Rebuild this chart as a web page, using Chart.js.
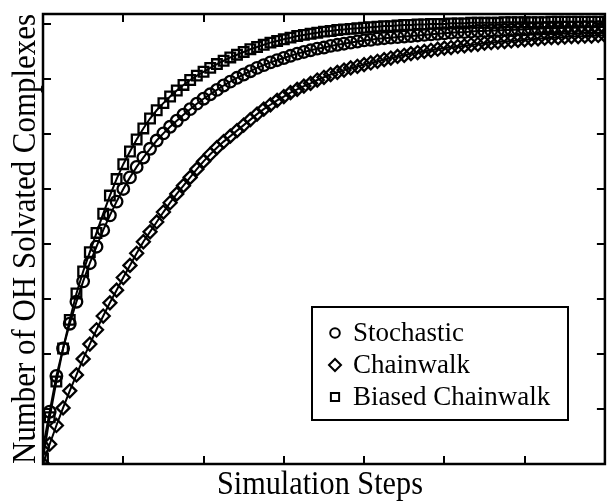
<!DOCTYPE html>
<html>
<head>
<meta charset="utf-8">
<script src="https://cdn.jsdelivr.net/npm/chart.js@4.4.1/dist/chart.umd.min.js"></script>
<style>
  html, body { margin: 0; padding: 0; background: #fff; }
</style>
</head>
<body>
<canvas id="myChart" width="614" height="501"></canvas>
<script>
const steps = [
  0, 1, 2, 3, 4, 5, 6, 7, 8, 9, 10, 11, 12, 13, 14, 15, 16, 17, 18, 19, 20,
  21, 22, 23, 24, 25, 26, 27, 28, 29, 30, 31, 32, 33, 34, 35, 36, 37, 38, 39, 40,
  41, 42, 43, 44, 45, 46, 47, 48, 49, 50, 51, 52, 53, 54, 55, 56, 57, 58, 59, 60,
  61, 62, 63, 64, 65, 66, 67, 68, 69, 70, 71, 72, 73, 74, 75, 76, 77, 78, 79, 80,
  81, 82, 83, 84,
];

const stochastic = [
  0.30, 0.95, 1.60, 2.10, 2.55, 2.95, 3.32, 3.65, 3.95, 4.25, 4.52,
  4.77, 5.00, 5.21, 5.40, 5.57, 5.73, 5.88, 6.01, 6.13, 6.24,
  6.35, 6.45, 6.55, 6.64, 6.72, 6.80, 6.88, 6.95, 7.02, 7.08,
  7.14, 7.20, 7.25, 7.30, 7.34, 7.38, 7.42, 7.46, 7.49, 7.52,
  7.55, 7.57, 7.60, 7.62, 7.64, 7.66, 7.68, 7.70, 7.71, 7.73,
  7.74, 7.75, 7.76, 7.77, 7.78, 7.79, 7.80, 7.81, 7.82, 7.83,
  7.84, 7.85, 7.85, 7.86, 7.87, 7.87, 7.88, 7.88, 7.89, 7.89,
  7.90, 7.90, 7.91, 7.91, 7.92, 7.92, 7.92, 7.93, 7.93, 7.93,
  7.94, 7.94, 7.94, 7.95,
];

const chainwalk = [
  0.00, 0.36, 0.70, 1.02, 1.33, 1.62, 1.91, 2.18, 2.44, 2.69, 2.93,
  3.16, 3.39, 3.61, 3.83, 4.04, 4.22, 4.40, 4.58, 4.75, 4.91,
  5.06, 5.21, 5.36, 5.50, 5.63, 5.75, 5.86, 5.96, 6.06, 6.16,
  6.26, 6.36, 6.45, 6.53, 6.61, 6.68, 6.75, 6.81, 6.87, 6.92,
  6.98, 7.03, 7.08, 7.12, 7.16, 7.20, 7.23, 7.26, 7.29, 7.32,
  7.35, 7.38, 7.41, 7.43, 7.46, 7.48, 7.50, 7.52, 7.54, 7.56,
  7.57, 7.59, 7.60, 7.62, 7.63, 7.65, 7.66, 7.67, 7.68, 7.69,
  7.70, 7.71, 7.72, 7.73, 7.74, 7.75, 7.75, 7.76, 7.77, 7.77,
  7.78, 7.78, 7.79, 7.79,
];

const biasedChainwalk = [
  0.10, 0.85, 1.50, 2.10, 2.62, 3.10, 3.50, 3.85, 4.20, 4.55, 4.88,
  5.18, 5.45, 5.68, 5.90, 6.10, 6.28, 6.43, 6.56, 6.68, 6.79,
  6.89, 6.98, 7.06, 7.13, 7.20, 7.27, 7.33, 7.39, 7.44, 7.49,
  7.54, 7.58, 7.62, 7.66, 7.69, 7.72, 7.75, 7.78, 7.80, 7.82,
  7.84, 7.86, 7.87, 7.89, 7.90, 7.91, 7.92, 7.93, 7.94, 7.95,
  7.96, 7.96, 7.97, 7.98, 7.98, 7.99, 7.99, 8.00, 8.00, 8.00,
  8.01, 8.01, 8.01, 8.02, 8.02, 8.02, 8.02, 8.02, 8.03, 8.03,
  8.03, 8.03, 8.03, 8.03, 8.03, 8.04, 8.04, 8.04, 8.04, 8.04,
  8.04, 8.04, 8.04, 8.04,
];

const seriesNames = ["Stochastic", "Chainwalk", "Biased Chainwalk"];
const xTicks = [12, 24, 36, 48, 60, 72];
const yTicks = [1, 2, 3, 4, 5, 6, 7, 8];

const toPoints = (ys) => steps.map((x, i) => ({ x: x, y: ys[i] }));

const serif = "'Liberation Serif', 'Times New Roman', serif";

// frame, inward ticks, axis titles and the boxed legend
const decor = {
  id: "decor",
  afterDraw(chart) {
    const ctx = chart.ctx;
    const area = chart.chartArea;
    const xs = chart.scales.x;
    const ys = chart.scales.y;
    ctx.save();
    ctx.strokeStyle = "#000";
    ctx.lineWidth = 2;
    xTicks.forEach((t) => {
      const px = Math.round(xs.getPixelForValue(t));
      ctx.beginPath();
      ctx.moveTo(px, area.bottom);
      ctx.lineTo(px, area.bottom - 8);
      ctx.moveTo(px, area.top);
      ctx.lineTo(px, area.top + 8);
      ctx.stroke();
    });
    yTicks.forEach((t) => {
      const py = Math.round(ys.getPixelForValue(t));
      ctx.beginPath();
      ctx.moveTo(area.left, py);
      ctx.lineTo(area.left + 8, py);
      ctx.moveTo(area.right, py);
      ctx.lineTo(area.right - 8, py);
      ctx.stroke();
    });
    ctx.lineWidth = 2.5;
    ctx.strokeRect(area.left, area.top, area.right - area.left, area.bottom - area.top);

    ctx.fillStyle = "#000";
    ctx.font = "33px " + serif;
    ctx.textAlign = "center";
    ctx.textBaseline = "alphabetic";
    ctx.fillText("Simulation Steps", (area.left + area.right) / 2 - 4, 494, 206);
    ctx.save();
    ctx.translate(35, (area.top + area.bottom) / 2);
    ctx.rotate(-Math.PI / 2);
    ctx.fillText("Number of OH Solvated Complexes", 0, 0, 450);
    ctx.restore();

    // legend
    ctx.lineWidth = 2;
    ctx.fillStyle = "#fff";
    ctx.fillRect(312, 307, 256, 113);
    ctx.strokeRect(312, 307, 256, 113);
    ctx.font = "27px " + serif;
    ctx.textAlign = "left";
    const rows = [341, 373, 405];
    chart.data.datasets.forEach((ds, i) => {
      ctx.fillStyle = "#fff";
      ctx.strokeStyle = "#000";
      ctx.lineWidth = 2;
      Chart.helpers.drawPoint(ctx, {
        pointStyle: ds.pointStyle,
        radius: ds.legendRadius,
        borderWidth: 2,
      }, 335, rows[i] - 8);
      ctx.fillStyle = "#000";
      ctx.fillText(ds.label, 353, rows[i]);
    });
    ctx.restore();
  },
};

new Chart(document.getElementById("myChart"), {
  type: "line",
  data: {
    datasets: [
      {
        label: seriesNames[0],
        data: toPoints(stochastic),
        pointStyle: "circle",
        pointRadius: 5.8,
        legendRadius: 4.8,
      },
      {
        label: seriesNames[1],
        data: toPoints(chainwalk),
        pointStyle: "rectRot",
        pointRadius: 6.5,
        legendRadius: 6,
      },
      {
        label: seriesNames[2],
        data: toPoints(biasedChainwalk),
        pointStyle: "rect",
        pointRadius: 6.8,
        legendRadius: 5.8,
      },
    ].map((ds) => ({
      ...ds,
      borderColor: "#000",
      borderWidth: 2,
      pointBorderColor: "#000",
      pointBackgroundColor: "rgba(0,0,0,0)",
      pointBorderWidth: 2.3,
      tension: 0,
      fill: false,
    })),
  },
  options: {
    responsive: false,
    animation: false,
    devicePixelRatio: 1,
    layout: { padding: { left: 43, right: 1, top: 14, bottom: 37 } },
    plugins: { legend: { display: false }, tooltip: { enabled: false } },
    scales: {
      x: { type: "linear", display: false, min: 0, max: 84 },
      y: { type: "linear", display: false, min: 0, max: 8.18 },
    },
  },
  plugins: [decor],
});
</script>
</body>
</html>
